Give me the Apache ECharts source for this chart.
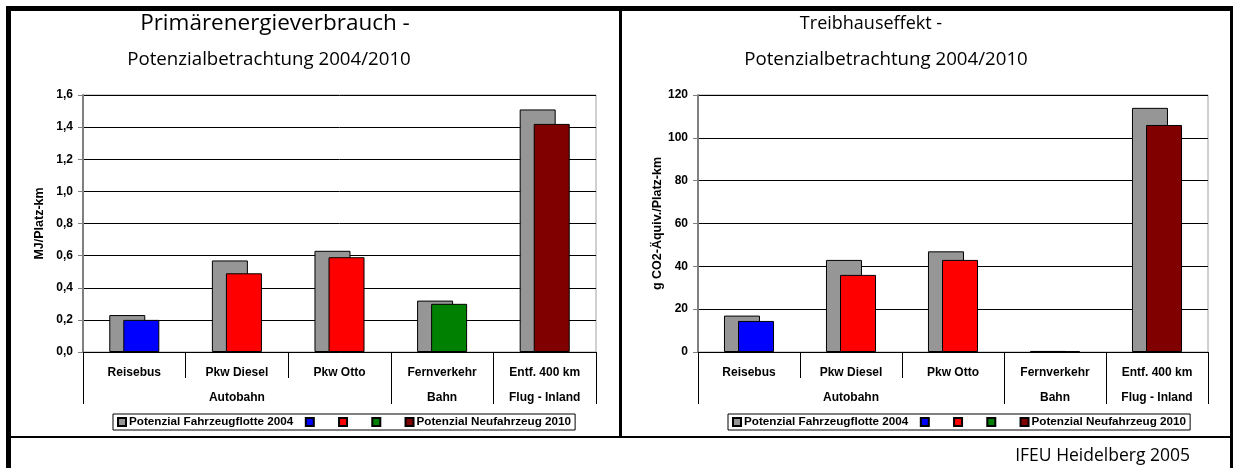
<!DOCTYPE html>
<html>
<head>
<meta charset="utf-8">
<script src="https://cdn.jsdelivr.net/npm/echarts@6/dist/echarts.min.js"></script>
<style>
    body { margin: 0; background: #fff; }
    #chart { position: absolute; left: 0; top: 0; width: 1233px; height: 468px; }
    .rule { position: absolute; background: #000; pointer-events: none; }
</style>
</head>
<body>
<div id="chart"></div>
<div class="rule" style="left:6px;top:6px;width:5px;height:462px"></div>
<div class="rule" style="left:6px;top:6px;width:1227px;height:5px"></div>
<div class="rule" style="left:619px;top:6px;width:3px;height:431px"></div>
<div class="rule" style="left:1230px;top:6px;width:3px;height:462px"></div>
<div class="rule" style="left:6px;top:436px;width:1227px;height:2px"></div>
<script>
    // Daten
    const categories = ['Reisebus', 'Pkw Diesel', 'Pkw Otto', 'Fernverkehr', 'Entf. 400 km']
    const groups = ['', 'Autobahn', '', 'Bahn', 'Flug - Inland']
    const groupStarts = [0, 3, 4]          // Trennlinien zwischen den Gruppen
    const energie2004 = [0.23, 0.57, 0.63, 0.32, 1.51]
    const energie2010 = [0.20, 0.49, 0.59, 0.30, 1.42]
    const thg2004 = [17, 43, 47, 0.5, 114]
    const thg2010 = [14.5, 36, 43, 0.3, 106]
    const energieTicks = [0, 1.6, 0.2]     // min, max, interval
    const thgTicks = [0, 120, 20]

    const name2004 = 'Potenzial Fahrzeugflotte 2004'
    const neuNames = ['Reisebus 2010', 'Pkw 2010', 'Bahn 2010', 'Potenzial Neufahrzeug 2010']
    const neuColors = ['#0000ff', '#ff0000', '#008000', '#800000']
    const colorClass = [0, 1, 1, 2, 3]      // welche Farbe je Kategorie

    const labelFont = { fontFamily: 'Liberation Sans', fontWeight: 'bold', fontSize: 12, color: '#000' }

    let myChart = echarts.init(document.getElementById('chart'))

    function makeXAxes(gridIndex) {
        return [
            {
                type: 'category', gridIndex, position: 'bottom', data: categories,
                axisLine: { lineStyle: { color: '#000', width: 1 } },
                axisTick: { show: true, length: 26, interval: 0, lineStyle: { color: '#000' } },
                axisLabel: { ...labelFont, interval: 0, margin: 15 },
                splitLine: { show: false }
            },
            {
                type: 'category', gridIndex, position: 'bottom', data: groups,
                axisLine: { show: false },
                axisTick: {
                    show: true, length: 52,
                    interval: (idx) => groupStarts.indexOf(idx) >= 0,
                    lineStyle: { color: '#000' }
                },
                axisLabel: { ...labelFont, interval: 0, margin: 40 },
                splitLine: { show: false }
            }
        ]
    }

    function makeYAxis(gridIndex, ticks, name, nameGap, fmt) {
        return {
            type: 'value', gridIndex,
            min: ticks[0], max: ticks[1], interval: ticks[2],
            name, nameLocation: 'middle', nameRotate: 90, nameGap,
            nameTextStyle: { ...labelFont, fontSize: 12.5 },
            axisLine: { show: true, lineStyle: { color: '#808080', width: 2 } },
            axisTick: { show: true, length: 5, lineStyle: { color: '#808080' } },
            axisLabel: { ...labelFont, margin: 10, formatter: fmt },
            splitLine: { lineStyle: { color: '#000', width: 1 } }
        }
    }

    function makeSeries(vals2004, vals2010, xIdx, yIdx, stack) {
        const list = [{
            name: name2004, type: 'bar', xAxisIndex: xIdx, yAxisIndex: yIdx,
            data: vals2004, barWidth: 36, barGap: '-61%',
            itemStyle: { color: '#969696', borderColor: '#000', borderWidth: 1 }
        }]
        neuNames.forEach((n, k) => {
            list.push({
                name: n, type: 'bar', stack, xAxisIndex: xIdx, yAxisIndex: yIdx,
                data: vals2010.map((v, i) => colorClass[i] === k ? v : '-'),
                barWidth: 36, barGap: '-61%',
                itemStyle: { color: neuColors[k], borderColor: '#000', borderWidth: 1 }
            })
        })
        return list
    }

    function makeLegend(left) {
        return {
            left, top: 414, orient: 'horizontal',
            data: [name2004, ...neuNames],
            // nur erster und letzter Eintrag mit Text
            formatter: (n) => (n === name2004 || n === neuNames[3]) ? n : '\u00a0\u00a0\u00a0',
            icon: 'rect', itemWidth: 8, itemHeight: 8, itemGap: 11.5,
            selectedMode: false,
            borderColor: '#000', borderWidth: 1, padding: [2, 4],
            textStyle: { ...labelFont, fontSize: 11.7, padding: [0, 0, 0, -2] }
        }
    }

    const titleStyle = (size) => ({ fontFamily: 'Open Sans', fontSize: size, fill: '#000', align: 'center', verticalAlign: 'middle' })

    const option = {
        animation: false,
        backgroundColor: '#fff',
        grid: [
            { left: 83, top: 95, width: 513, height: 257, show: true, borderColor: '#a0a0a0', borderWidth: 1, backgroundColor: 'transparent' },
            { left: 698, top: 95, width: 510, height: 257, show: true, borderColor: '#a0a0a0', borderWidth: 1, backgroundColor: 'transparent' }
        ],
        xAxis: [...makeXAxes(0), ...makeXAxes(1)],
        yAxis: [
            makeYAxis(0, energieTicks, 'MJ/Platz-km', 37, (v) => v.toFixed(1).replace('.', ',')),
            makeYAxis(1, thgTicks, 'g CO2-Äquiv./Platz-km', 34, (v) => String(v))
        ],
        legend: [makeLegend(113), makeLegend(728)],
        series: [
            ...makeSeries(energie2004, energie2010, 0, 0, 'neuA'),
            ...makeSeries(thg2004, thg2010, 2, 1, 'neuB')
        ],
        graphic: [
            { type: 'text', x: 275, y: 24, style: { text: 'Primärenergieverbrauch -', ...titleStyle(22.5) } },
            { type: 'text', x: 269, y: 60, style: { text: 'Potenzialbetrachtung 2004/2010', ...titleStyle(18.7) } },
            { type: 'text', x: 871, y: 24, style: { text: 'Treibhauseffekt -', ...titleStyle(18) } },
            { type: 'text', x: 886, y: 60, style: { text: 'Potenzialbetrachtung 2004/2010', ...titleStyle(18.7) } },
            { type: 'text', x: 1190, y: 456, style: { text: 'IFEU Heidelberg 2005', fontFamily: 'Open Sans', fontSize: 17.5, fill: '#000', align: 'right', verticalAlign: 'middle' } }
        ]
    }

    option && myChart.setOption(option)
</script>
</body>
</html>
